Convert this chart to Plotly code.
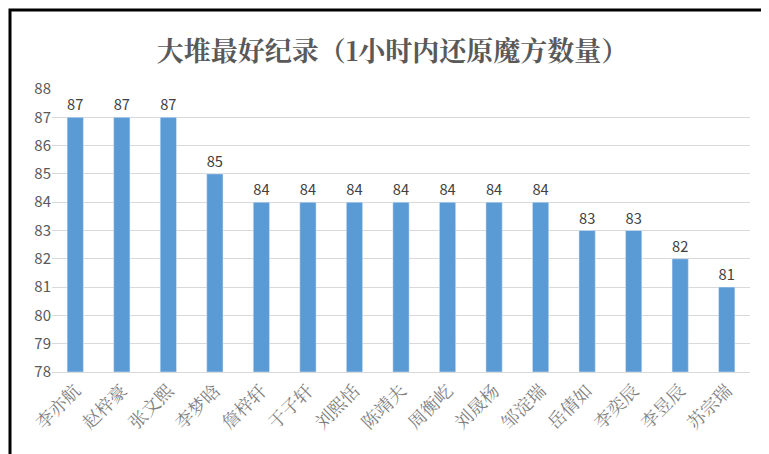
import plotly.graph_objects as go

names = ["李亦航","赵梓豪","张文熙","李梦晗","詹梓轩","于子轩","刘熙恬","陈靖夫","周衡屹","刘晟杨","邹淀瑞","岳倩如","李奕辰","李昱辰","苏宗瑞"]
scores = [87,87,87,85,84,84,84,84,84,84,84,83,83,82,81]
yticks = list(range(78, 89))

L, R, T, B = 44, 27, 81, 90
W, H = 769, 454
pw, ph = W - L - R, H - T - B

fig = go.Figure(go.Bar(x=names, y=[s-78 for s in scores], base=78, marker_color="#5b9bd5",
    width=0.35, text=[str(s) for s in scores], textposition="outside",
    textfont=dict(size=15, color="#404040", family="Noto Sans CJK SC"), cliponaxis=False))
fig.update_layout(
    width=W, height=H, plot_bgcolor="white", paper_bgcolor="white",
    margin=dict(l=L, r=R, t=T, b=B, autoexpand=False),
    title=dict(text="<b>大堆最好纪录（1小时内还原魔方数量）</b>", x=0.5, xanchor="center", y=0.925,
               font=dict(size=27, color="#595959", family="Noto Serif CJK SC, Noto Sans CJK SC")),
    showlegend=False, bargap=0.65,
    shapes=[dict(type="rect", xref="paper", yref="paper",
                 x0=-(L-2)/pw, x1=1+(R-2)/pw, y0=-(B-2)/ph, y1=1+(T-2)/ph,
                 line=dict(color="black", width=3))],
)
fig.update_yaxes(range=[78, 88], tickvals=yticks, showgrid=True, gridcolor="#d9d9d9",
                 tickfont=dict(size=15, color="#595959", family="Noto Sans CJK SC"), zeroline=False, ticks="", ticklen=0)
fig.update_xaxes(tickangle=-45, showline=True, linecolor="#d9d9d9", linewidth=1,
                 tickfont=dict(size=18, color="#7f7f7f", family="Noto Serif CJK SC, Noto Sans CJK SC"))
fig.write_html("out.html")
